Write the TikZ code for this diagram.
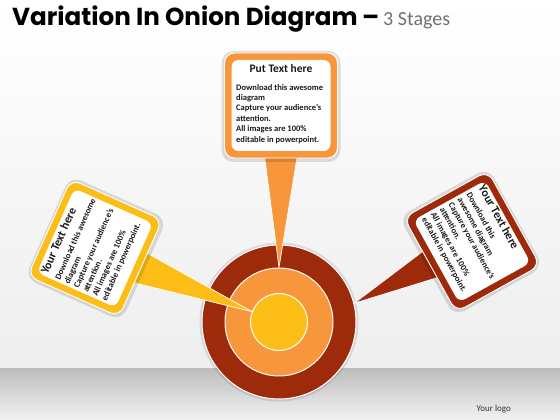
\documentclass[tikz,border=0pt]{standalone}
\usepackage{fontspec}
\setmainfont{Carlito}
\newfontfamily\titlefont{Poppins}
\usetikzlibrary{calc}
\definecolor{cyel}{RGB}{252,190,22}
\definecolor{cora}{RGB}{247,150,58}
\definecolor{cbrn}{RGB}{158,42,12}
\definecolor{cgray}{RGB}{112,112,112}
\definecolor{ctxt}{RGB}{25,25,25}
\tikzset{
  boxtitle/.style={font=\bfseries\fontsize{11.5}{13}\selectfont, text=ctxt, inner sep=0pt},
  boxbody/.style={font=\bfseries\fontsize{8.5}{10.4}\selectfont, text=ctxt, align=left, inner sep=0pt},
  rtitle/.style={font=\bfseries\fontsize{12}{14}\selectfont, text=ctxt, inner sep=0pt},
  rbody/.style={font=\bfseries\fontsize{8.6}{10.2}\selectfont, text=ctxt, align=left, inner sep=0pt},
  headfont/.style={font=\titlefont\bfseries\fontsize{24.6}{29}\selectfont, inner sep=0pt},
  ring/.style={circle, draw=white, line width=1pt, inner sep=0pt},
  stemshape/.style={draw=white, line width=0.7pt, line join=round},
}
\newcommand{\myCalloutFrame}[3]{%
  \fill[black,opacity=0.12,rounded corners=12pt] (-#1/2-3,-#2/2-4) rectangle (#1/2+3,#2/2+2);
  \filldraw[fill=#3, draw=white, line width=0.9pt, rounded corners=10pt] (-#1/2,-#2/2) rectangle (#1/2,#2/2);
  \fill[white, rounded corners=7pt] (-#1/2+7,-#2/2+7) rectangle (#1/2-7,#2/2-7);
}
\begin{document}
\begin{tikzpicture}[x=1pt,y=1pt]
\useasboundingbox (0,0) rectangle (560,420);
% background
\shade[top color=white, bottom color={rgb,255:red,238;green,238;blue,238}] (0,51) rectangle (560,420);
\shade[top color={rgb,255:red,190;green,190;blue,190}, bottom color={rgb,255:red,242;green,242;blue,242}] (0,0) rectangle (560,51);
% title
\node[headfont, anchor=base west] (title) at (12,394) {Variation In Onion Diagram};
\node[headfont, anchor=base west] (dash) at (362,394) {–};
\node[anchor=base west, inner sep=0pt, font=\fontsize{20}{24}\selectfont, text=cgray] (stages) at (383,394) {3 Stages};
\node[anchor=base east, inner sep=0pt, font=\fontsize{9}{11}\selectfont, text=black!80] (logo) at (511,8) {Your logo};
% onion
\fill[black,opacity=0.10] (279,98) circle (79.5);
\node[ring, fill=cbrn, minimum size=154pt] (outer) at (279,98) {};
\node[ring, fill=cora, minimum size=108pt] (mid) at (279,98) {};
\node[ring, fill=cyel, minimum size=57pt] (inner) at (279,98) {};
% stem bases
\begin{scope}[shift={(281,314.5)}]
  \coordinate (tb1) at (-17,-46);
  \coordinate (tb2) at (17,-46);
\end{scope}
\begin{scope}[shift={(95,172)}, rotate=66]
  \coordinate (lb1) at (-17,-44);
  \coordinate (lb2) at (17,-44);
\end{scope}
\begin{scope}[shift={(472,178.5)}, rotate=-61]
  \coordinate (rb1) at (-16,-42);
  \coordinate (rb2) at (16,-42);
\end{scope}
% stems
\filldraw[stemshape, fill=cora] (tb1) -- (mid.90) -- (tb2) -- cycle;
\filldraw[stemshape, fill=cyel] (lb1) -- (inner.159) -- (lb2) -- cycle;
\filldraw[stemshape, fill=cbrn] (rb1) -- (outer.14) -- (rb2) -- cycle;
% top box
\begin{scope}[shift={(281,314.5)}]
  \myCalloutFrame{113}{105}{cora}
  \node[boxtitle, anchor=north] (tt) at (0,41.5) {Put Text here};
  \node[boxbody, anchor=north west] (tx) at (-45,21.5)
    {Download this awesome\\diagram\\Capture your audience’s\\attention.\\All images are 100\%\\editable in powerpoint.};
\end{scope}
% left box
\begin{scope}[shift={(95,172)}, rotate=66, transform shape]
  \myCalloutFrame{106}{100}{cyel}
  \node[rtitle, anchor=north west] (lt) at (-44,41) {Your Text here};
  \node[rbody, anchor=north west] (lx) at (-44,25)
    {Download this awesome\\diagram\\Capture your audience’s\\attention.\\All images are 100\%\\editable in powerpoint.};
\end{scope}
% right box
\begin{scope}[shift={(472,178.5)}, rotate=-61, transform shape]
  \myCalloutFrame{108}{96}{cbrn}
  \node[rtitle, anchor=north west] (rt) at (-44,40) {Your Text here};
  \node[rbody, anchor=north west] (rx) at (-44,24)
    {Download this\\awesome diagram\\Capture your audience’s\\attention.\\All images are 100\%\\editable in powerpoint.};
\end{scope}
\end{tikzpicture}
\end{document}
